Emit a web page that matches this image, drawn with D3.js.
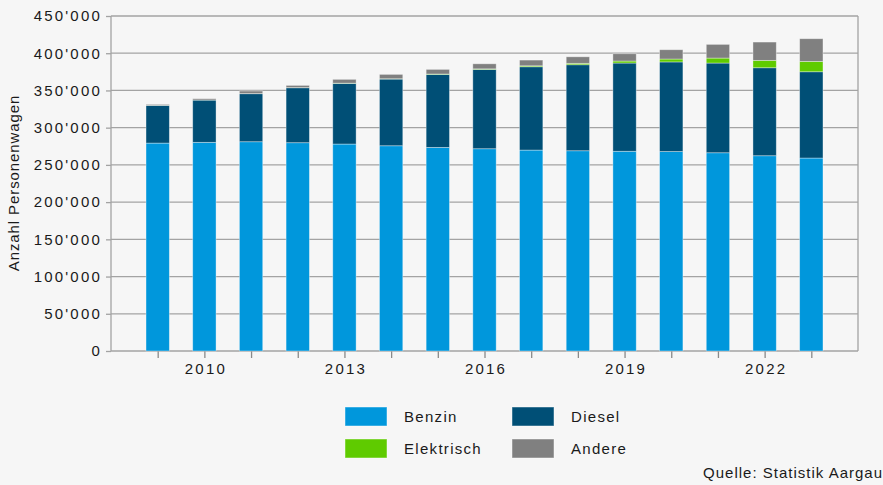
<!DOCTYPE html>
<html>
<head>
<meta charset="utf-8">
<script src="https://cdn.jsdelivr.net/npm/d3@7"></script>
<style>
    body { margin: 0; background: #f6f6f6; }
    svg { display: block; font-family: "Liberation Sans", Arial, sans-serif; }
    .lbl { font-size: 15px; letter-spacing: 1.3px; fill: #1a1a1a; }
    .num { font-size: 15px; letter-spacing: 2.2px; fill: #1a1a1a; }
</style>
</head>
<body>
<svg id="chart" width="883" height="485"></svg>
<script>
// Personenwagen im Kanton Aargau nach Treibstoff
const years = [2009, 2010, 2011, 2012, 2013, 2014, 2015, 2016, 2017, 2018, 2019, 2020, 2021, 2022, 2023];
const benzin = [279300, 280300, 281100, 279800, 278000, 275700, 273500, 271700, 269900, 269000, 268300, 267900, 266300, 262300, 259200];
const diesel = [50700, 56800, 64500, 73800, 81500, 89600, 98100, 106600, 111900, 115500, 118500, 120400, 120500, 118200, 115900];
const elektrisch = [100, 100, 150, 200, 300, 400, 500, 700, 1300, 1900, 2700, 3900, 6700, 9900, 13900];
const andere = [1200, 1700, 3450, 3000, 5100, 5900, 6200, 6800, 7700, 8800, 9800, 12500, 18400, 24600, 30500];
const yTicks = [0, 50000, 100000, 150000, 200000, 250000, 300000, 350000, 400000, 450000];
const labelYears = [2010, 2013, 2016, 2019, 2022];

const series = [
    {key: "Benzin", values: benzin, color: "#0097dc"},
    {key: "Diesel", values: diesel, color: "#004f76"},
    {key: "Elektrisch", values: elektrisch, color: "#5fcb00"},
    {key: "Andere", values: andere, color: "#808080"}
];

const svg = d3.select("#chart");
const m = {left: 111, right: 858, top: 16, bottom: 351};

const x = d3.scaleLinear().domain([2008, 2024]).range([m.left, m.right]);
const y = d3.scaleLinear().domain([0, 450000]).range([m.bottom, m.top]);
const barW = (x(2009) - x(2008)) * 0.5;

const fmt = v => d3.format(",")(v).replace(/,/g, "'");

// grid
svg.append("g")
    .selectAll("line")
    .data(yTicks)
    .join("line")
    .attr("x1", m.left).attr("x2", m.right)
    .attr("y1", d => y(d)).attr("y2", d => y(d))
    .attr("stroke", "#a3a3a3")
    .attr("stroke-width", 1.3);

// left / right frame
svg.append("line").attr("x1", m.left).attr("x2", m.left).attr("y1", m.top).attr("y2", m.bottom)
    .attr("stroke", "#a3a3a3").attr("stroke-width", 1.3);
svg.append("line").attr("x1", m.right).attr("x2", m.right).attr("y1", m.top).attr("y2", m.bottom)
    .attr("stroke", "#a3a3a3").attr("stroke-width", 1.3);

// y axis
const yAxis = svg.append("g")
    .attr("transform", `translate(${m.left},0)`)
    .call(d3.axisLeft(y).tickValues(yTicks).tickFormat(fmt).tickSize(5).tickPadding(4));
yAxis.select(".domain").remove();
yAxis.selectAll("line").attr("stroke", "#a3a3a3").attr("stroke-width", 1.3);
yAxis.selectAll("text").attr("class", "num");
yAxis.attr("font-family", null).attr("font-size", null);

// x axis
const xAxis = svg.append("g")
    .attr("transform", `translate(0,${m.bottom})`)
    .call(d3.axisBottom(x).tickValues(years)
        .tickFormat(d => labelYears.includes(d) ? d : "")
        .tickSize(7).tickPadding(5));
xAxis.select(".domain").remove();
xAxis.selectAll("line").attr("stroke", "#8a8a8a").attr("stroke-width", 1.3);
xAxis.selectAll("text").attr("class", "num").attr("dx", "1px");
xAxis.attr("font-family", null).attr("font-size", null);

// stacked bars
const table = years.map((yr, i) => {
    const row = {year: yr};
    series.forEach(s => row[s.key] = s.values[i]);
    return row;
});
const stacked = d3.stack().keys(series.map(s => s.key))(table);

svg.append("g")
    .selectAll("g")
    .data(stacked)
    .join("g")
    .attr("fill", (d, i) => series[i].color)
    .selectAll("rect")
    .data(d => d)
    .join("rect")
    .attr("x", d => x(d.data.year) - barW / 2)
    .attr("width", barW)
    .attr("y", d => y(d[1]))
    .attr("height", d => y(d[0]) - y(d[1]))
    .attr("stroke", "rgba(255,255,255,0.45)")
    .attr("stroke-width", 0.8);

// axis title
svg.append("text")
    .attr("class", "lbl")
    .attr("transform", "translate(19,183) rotate(-90)")
    .attr("text-anchor", "middle")
    .style("letter-spacing", "0.9px")
    .text("Anzahl Personenwagen");

// legend
const legend = svg.append("g")
    .selectAll("g")
    .data(series)
    .join("g")
    .attr("transform", (d, i) => `translate(${345 + (i % 2) * 167},${407 + Math.floor(i / 2) * 32})`);
legend.append("rect")
    .attr("width", 42).attr("height", 19)
    .attr("fill", d => d.color)
    .attr("stroke", "rgba(255,255,255,0.45)");
legend.append("text")
    .attr("class", "lbl")
    .attr("x", 59).attr("y", 10)
    .attr("dy", "0.35em")
    .text(d => d.key);

svg.append("text")
    .attr("class", "lbl")
    .attr("x", 883).attr("y", 478)
    .attr("text-anchor", "end")
    .style("letter-spacing", "1px")
    .text("Quelle: Statistik Aargau");
</script>
</body>
</html>
